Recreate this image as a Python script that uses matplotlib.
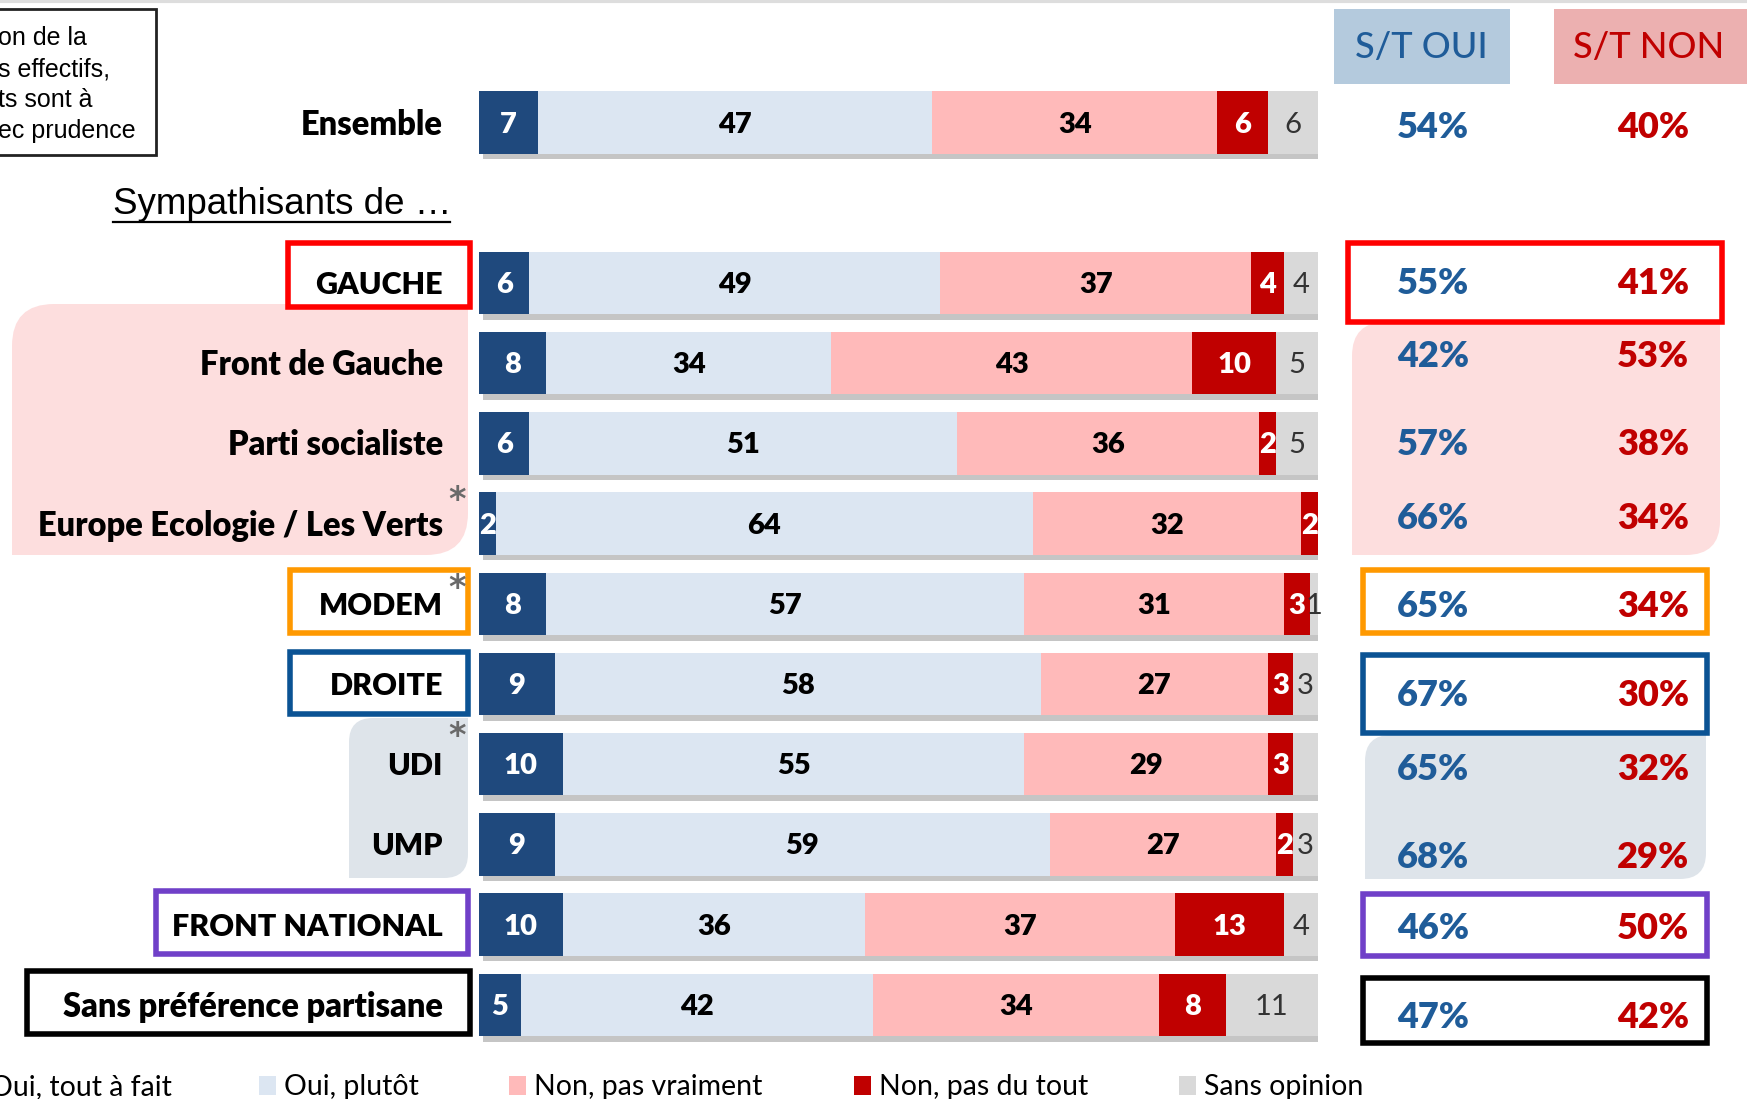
import numpy as np
import matplotlib.pyplot as plt
from matplotlib.path import Path
from matplotlib.patches import PathPatch, Rectangle
from matplotlib import patheffects as pe
from matplotlib import transforms

# --- données ---
groups = ["Ensemble", "GAUCHE", "Front de Gauche", "Parti socialiste",
          "Europe Ecologie / Les Verts", "MODEM", "DROITE", "UDI", "UMP",
          "FRONT NATIONAL", "Sans préférence partisane"]
oui_tout = [7, 6, 8, 6, 2, 8, 9, 10, 9, 10, 5]
oui_plutot = [47, 49, 34, 51, 64, 57, 58, 55, 59, 36, 42]
non_vraiment = [34, 37, 43, 36, 32, 31, 27, 29, 27, 37, 34]
non_tout = [6, 4, 10, 2, 2, 3, 3, 3, 2, 13, 8]
sans_opinion = [6, 4, 5, 5, 0, 1, 3, 3, 3, 4, 11]
st_oui = [54, 55, 42, 57, 66, 65, 67, 65, 68, 46, 47]
st_non = [40, 41, 53, 38, 34, 34, 30, 32, 29, 50, 42]
small_base = ["Europe Ecologie / Les Verts", "MODEM", "UDI"]
legend_labels = ["Oui, tout à fait", "Oui, plutôt", "Non, pas vraiment",
                 "Non, pas du tout", "Sans opinion"]
note_lines = ["on de la", "s effectifs,", "ts sont à", "ec prudence"]

# --- mise en page ---
W, H = 1747, 1099
ypos = [0, 2, 3, 4, 5, 6, 7, 8, 9, 10, 11]
row0, step = 122.6, 80.2
st_dy = [5, 0, -7, 1, -5, 3, 11, 5, 13, 4, 13]    # décalage des S/T en px
star_dy = [-23, -15, -28]                         # astérisques, px
hidden = {("UDI", 4)}

bar_colors = ["#1F497D", "#DCE6F2", "#FFBABA", "#C00000", "#D9D9D9"]
txt_colors = ["white", "black", "black", "white", "#333333"]
txt_weights = ["heavy", "heavy", "heavy", "heavy", "normal"]
oui_col, non_col = "#1F5C99", "#C00000"
FONT = "Lato"


def row_px(i):
    return row0 + step * ypos[i]


def tlbr_box(x0, y0, x1, y1, r):
    """Rectangle avec coins haut-gauche et bas-droit arrondis (y vers le bas)."""
    verts = [(x0 + r, y0), (x1, y0), (x1, y1 - r), (x1, y1), (x1 - r, y1),
             (x0, y1), (x0, y0 + r), (x0, y0), (x0 + r, y0), (x0 + r, y0)]
    codes = [Path.MOVETO, Path.LINETO, Path.LINETO, Path.CURVE3, Path.CURVE3,
             Path.LINETO, Path.LINETO, Path.CURVE3, Path.CURVE3, Path.CLOSEPOLY]
    return Path(verts, codes)


fig = plt.figure(figsize=(W / 100, H / 100), dpi=100)
bg = fig.add_axes([0, 0, 1, 1], zorder=0)
bg.set_xlim(0, W)
bg.set_ylim(H, 0)
bg.axis("off")

top_px = row0 - 0.5 * step
bot_px = row0 + 11.5 * step
ax = fig.add_axes([479 / W, 1 - bot_px / H, (1318 - 479) / W, (bot_px - top_px) / H],
                  zorder=1)
ax.set_xlim(0, 100)
ax.set_ylim(11.5, -0.5)
ax.axis("off")
ax.patch.set_alpha(0)

# fonds arrondis
for (x0, y0, x1, y1, r, c) in [(12, 304, 468, 555, 42, "#FDDEDE"),
                               (1352, 322, 1720, 555, 34, "#FDDEDE"),
                               (349, 718, 468, 878, 24, "#DEE4EA"),
                               (1365, 735, 1706, 879, 26, "#DEE4EA")]:
    bg.add_patch(PathPatch(tlbr_box(x0, y0, x1, y1, r), facecolor=c,
                           edgecolor="none", zorder=0))

# cadres colorés
frames = [
    ((288, 243, 470, 307), "#FF0000"), ((1348, 243, 1722, 322), "#FF0000"),
    ((290, 570, 468, 633), "#FF9900"), ((1363, 570, 1707, 633), "#FF9900"),
    ((290, 652, 468, 714), "#0B5394"), ((1363, 655, 1707, 733), "#0B5394"),
    ((156, 891, 468, 954), "#7040C8"), ((1363, 894, 1707, 956), "#7040C8"),
    ((27, 971, 470, 1034), "black"), ((1363, 978, 1707, 1043), "black"),
]
for (x0, y0, x1, y1), c in frames:
    bg.add_patch(Rectangle((x0, y0), x1 - x0, y1 - y0, facecolor="white",
                           edgecolor=c, linewidth=4, zorder=1))

# barres empilées
series = [oui_tout, oui_plutot, non_vraiment, non_tout, sans_opinion]
left = np.zeros(len(groups))
shadow = [pe.SimplePatchShadow(offset=(3, -4), shadow_rgbFace="#7f7f7f", alpha=0.45),
          pe.Normal()]
num_tr = transforms.offset_copy(ax.transData, fig=fig, y=-2, units="dots")
for k, vals in enumerate(series):
    vals = np.array(vals, dtype=float)
    bars = ax.barh(ypos, vals, left=left, height=0.78, color=bar_colors[k],
                   linewidth=0, zorder=2)
    for b in bars:
        b.set_path_effects(shadow)
    for i, v in enumerate(vals):
        if v == 0 or (groups[i], k) in hidden:
            continue
        ax.text(left[i] + v / 2, ypos[i], f"{int(v)}", ha="center", va="center",
                color=txt_colors[k], fontsize=21, fontweight=txt_weights[k],
                family=FONT, zorder=3, transform=num_tr)
    left += vals

# libellés des groupes
lab_tr = transforms.blended_transform_factory(bg.transData, ax.transData)
lab_tr2 = transforms.offset_copy(lab_tr, fig=fig, y=-2, units="dots")
for i, g in enumerate(groups):
    size = 22 if g.isupper() else 23.5
    ax.text(443, ypos[i], g, transform=lab_tr2, ha="right", va="center",
            fontsize=size, fontweight="heavy", family=FONT, color="black",
            clip_on=False)
    if g in small_base:
        j = small_base.index(g)
        ax.text(457, ypos[i] + star_dy[j] / step, "*", transform=lab_tr,
                ha="center", va="center", fontsize=24, fontweight="bold",
                color="#6a6a6a", family="DejaVu Sans", clip_on=False)

# colonnes S/T
for i in range(len(groups)):
    y = row_px(i) + st_dy[i]
    bg.text(1433, y, f"{st_oui[i]}%", ha="center", va="center", fontsize=26,
            fontweight="heavy", color=oui_col, family=FONT, zorder=3)
    bg.text(1653, y, f"{st_non[i]}%", ha="center", va="center", fontsize=26,
            fontweight="heavy", color=non_col, family=FONT, zorder=3)

bg.add_patch(Rectangle((1334, 9), 176, 75, facecolor="#B4CADD", edgecolor="none"))
bg.add_patch(Rectangle((1554, 9), 193, 75, facecolor="#ECB0B0", edgecolor="none"))
bg.text(1421, 47, "S/T OUI", ha="center", va="center", fontsize=26,
        color=oui_col, family=FONT, fontweight="medium")
bg.text(1649, 47, "S/T NON", ha="center", va="center", fontsize=26,
        color=non_col, family=FONT, fontweight="medium")

# encadré note
bg.add_patch(Rectangle((-5, 9), 161, 146, facecolor="white", edgecolor="#222222",
                       linewidth=2, zorder=1))
for j, line in enumerate(note_lines):
    bg.text(-2, 38 + 31 * j, line, ha="left", va="center", fontsize=18,
            family="Liberation Sans", color="black", zorder=2)

# sous-titre
bg.text(113, 205, "Sympathisants de …", ha="left", va="center", fontsize=26.5,
        family="Liberation Sans", color="black")
bg.plot([113, 450], [222, 222], color="black", linewidth=1.6)

# filet en haut
bg.plot([0, W], [1, 1], color="#dddddd", linewidth=3)

# légende
leg_marks = [-40, 259, 509, 854, 1179]
leg_texts = [-10, 284, 534, 879, 1204]
for k, lab in enumerate(legend_labels):
    bg.add_patch(Rectangle((leg_marks[k], 1076), 17, 19, facecolor=bar_colors[k],
                           edgecolor="none"))
    bg.text(leg_texts[k], 1087, lab, ha="left", va="center", fontsize=20.5,
            family=FONT, color="black")

fig.savefig("out.png", dpi=100)
